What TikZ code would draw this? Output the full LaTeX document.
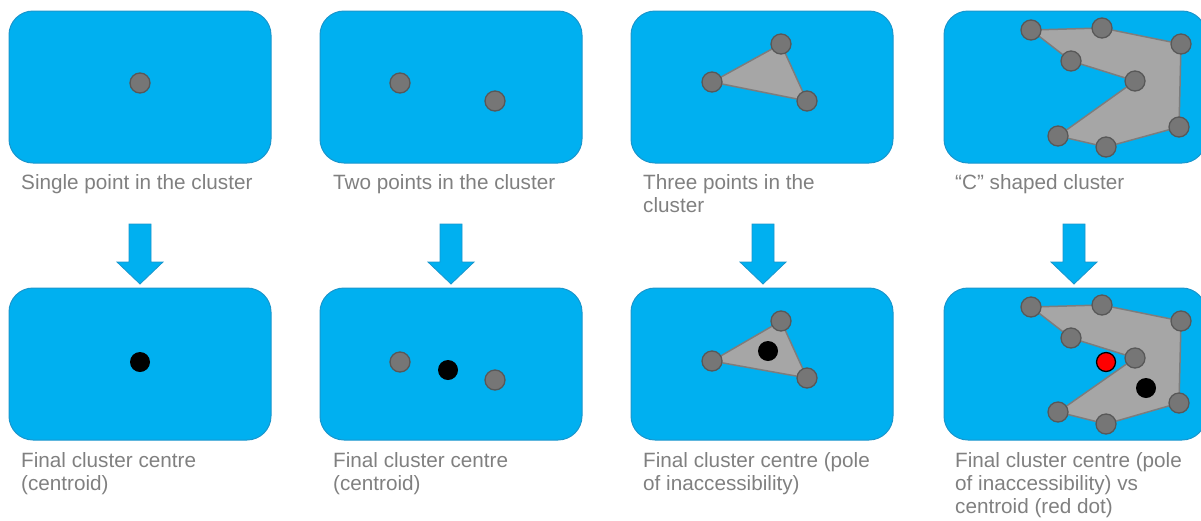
\documentclass[tikz,border=0pt]{standalone}
\usepackage{fontspec}
\setmainfont{Liberation Sans}
\definecolor{panel}{RGB}{0,176,240}
\definecolor{panelline}{RGB}{25,150,205}
\definecolor{ptfill}{RGB}{118,118,118}
\definecolor{ptline}{RGB}{88,88,88}
\definecolor{hull}{RGB}{166,166,166}
\definecolor{hullline}{RGB}{125,125,125}
\definecolor{captiongray}{RGB}{128,128,128}

\begin{document}
\begin{tikzpicture}[x=1pt,y=-1pt,
  panelbox/.style={draw=panelline, line width=1pt, fill=panel, rounded corners=24pt,
    minimum width=262pt, minimum height=152pt, inner sep=0pt},
  pt/.style={circle, draw=ptline, line width=1.3pt, fill=ptfill, minimum size=20pt, inner sep=0pt},
  centre/.style={circle, fill=black, minimum size=20pt, inner sep=0pt},
  redcentre/.style={circle, draw=black, line width=1.3pt, fill=red, minimum size=19pt, inner sep=0pt},
  hullshape/.style={fill=hull, draw=hullline, line width=1.5pt, line join=round},
  % captions are anchored at the baseline of their last line
  caption/.style={anchor=base west, align=left, text=captiongray, inner sep=0pt,
    font=\fontsize{20.7}{23.4}\selectfont},
  downarr/.pic={
    \filldraw[fill=panel, draw=panelline, line width=0.8pt, line join=miter]
      (-11,0) -- (11,0) -- (11,38) -- (23,38) -- (0,60) -- (-23,38) -- (-11,38) -- cycle;
  }
]
\useasboundingbox (0,0) rectangle (1201,520);
\clip (0,0) rectangle (1201,520);

% ---- panels ----
\node[panelbox] (t1) at (140,87) {};
\node[panelbox] (t2) at (451,87) {};
\node[panelbox] (t3) at (762,87) {};
\node[panelbox] (t4) at (1075,87) {};
\node[panelbox] (b1) at (140,364) {};
\node[panelbox] (b2) at (451,364) {};
\node[panelbox] (b3) at (762,364) {};
\node[panelbox] (b4) at (1075,364) {};

% ---- arrows between the rows ----
\pic at (140,224) {downarr};
\pic at (451,224) {downarr};
\pic at (763,224) {downarr};
\pic at (1074,224) {downarr};

% ---- column 1: single point ----
\node[pt] (a1) at (140,83) {};
\node[centre] (ac) at (140,362) {};

% ---- column 2: two points ----
\node[pt] (c1) at (400,83) {};
\node[pt] (c2) at (495,101) {};
\node[pt] (d1) at (400,362) {};
\node[centre] (dc) at (448,370) {};
\node[pt] (d2) at (495,380) {};

% ---- column 3: three points ----
\coordinate (e1) at (712,82);
\coordinate (e2) at (781,44);
\coordinate (e3) at (807,101);
\draw[hullshape] (e1) -- (e2) -- (e3) -- cycle;
\foreach \p in {e1,e2,e3} \node[pt] (n\p) at (\p) {};

\coordinate (f1) at (712,361);
\coordinate (f2) at (781,321);
\coordinate (f3) at (807,378);
\draw[hullshape] (f1) -- (f2) -- (f3) -- cycle;
\foreach \p in {f1,f2,f3} \node[pt] (n\p) at (\p) {};
\node[centre] (fc) at (768,351) {};

% ---- column 4: "C" shaped cluster ----
\coordinate (g1) at (1031,30);
\coordinate (g2) at (1102,28);
\coordinate (g3) at (1181,44);
\coordinate (g4) at (1179,127);
\coordinate (g5) at (1106,147);
\coordinate (g6) at (1058,136);
\coordinate (g7) at (1135,81);
\coordinate (g8) at (1071,61);
\draw[hullshape] (g1) -- (g2) -- (g3) -- (g4) -- (g5) -- (g6) -- (g7) -- (g8) -- cycle;
\foreach \p in {g1,g2,g3,g4,g5,g6,g7,g8} \node[pt] (n\p) at (\p) {};

\coordinate (h1) at (1031,307);
\coordinate (h2) at (1102,305);
\coordinate (h3) at (1181,321);
\coordinate (h4) at (1179,403);
\coordinate (h5) at (1106,424);
\coordinate (h6) at (1058,412);
\coordinate (h7) at (1135,358);
\coordinate (h8) at (1071,338);
\draw[hullshape] (h1) -- (h2) -- (h3) -- (h4) -- (h5) -- (h6) -- (h7) -- (h8) -- cycle;
\foreach \p in {h1,h2,h3,h4,h5,h6,h7,h8} \node[pt] (n\p) at (\p) {};
\node[redcentre] (hr) at (1106,362) {};
\node[centre] (hc) at (1146,388) {};

% ---- captions ----
\node[caption] (l1) at (21,189) {Single point in the cluster};
\node[caption] (l2) at (333,189) {Two points in the cluster};
\node[caption] (l3) at (643,212.4) {Three points in the\\cluster};
\node[caption] (l4) at (955,189) {“C” shaped cluster};
\node[caption] (m1) at (21,490.4) {Final cluster centre\\(centroid)};
\node[caption] (m2) at (333,490.4) {Final cluster centre\\(centroid)};
\node[caption] (m3) at (643,490.4) {Final cluster centre (pole\\of inaccessibility)};
\node[caption] (m4) at (955,513.8) {Final cluster centre (pole\\of inaccessibility) vs\\centroid (red dot)};
\end{tikzpicture}
\end{document}
